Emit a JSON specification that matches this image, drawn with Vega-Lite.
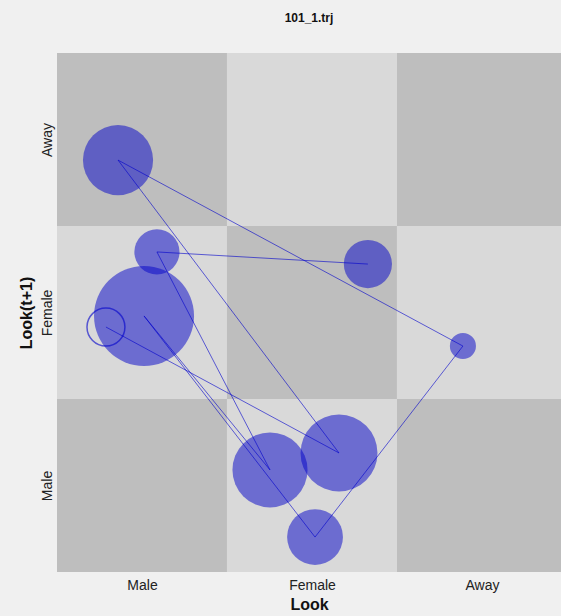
{
  "$schema": "https://vega.github.io/schema/vega-lite/v6.json",
  "width": 504,
  "height": 519,
  "autosize": {"type": "none"},
  "padding": {"left": 57, "top": 53, "right": 0, "bottom": 44},
  "background": "#f0f0f0",
  "title": {"text": "101_1.trj", "fontSize": 12, "font": "Liberation Sans", "fontWeight": "bold", "color": "#111111", "anchor": "middle", "offset": 28, "frame": "group"},
  "config": {"view": {"stroke": null}},
  "datasets": {
    "cells": [
      {"look": 0.5, "look2": 1.5, "next": 2.5, "next2": 3.5, "shade": "dark"},
      {"look": 1.5, "look2": 2.5, "next": 2.5, "next2": 3.5, "shade": "light"},
      {"look": 2.5, "look2": 3.5, "next": 2.5, "next2": 3.5, "shade": "dark"},
      {"look": 0.5, "look2": 1.5, "next": 1.5, "next2": 2.5, "shade": "light"},
      {"look": 1.5, "look2": 2.5, "next": 1.5, "next2": 2.5, "shade": "dark"},
      {"look": 2.5, "look2": 3.5, "next": 1.5, "next2": 2.5, "shade": "light"},
      {"look": 0.5, "look2": 1.5, "next": 0.5, "next2": 1.5, "shade": "dark"},
      {"look": 1.5, "look2": 2.5, "next": 0.5, "next2": 1.5, "shade": "light"},
      {"look": 2.5, "look2": 3.5, "next": 0.5, "next2": 1.5, "shade": "dark"}
    ],
    "steps": [
      {"step": 1, "look": 0.788, "next": 1.916, "dur": 3.6},
      {"step": 2, "look": 2.159, "next": 1.188, "dur": 14.8},
      {"step": 3, "look": 0.859, "next": 2.881, "dur": 12.3},
      {"step": 4, "look": 2.888, "next": 1.806, "dur": 1.7},
      {"step": 5, "look": 2.018, "next": 0.702, "dur": 7.8},
      {"step": 6, "look": 1.012, "next": 1.98, "dur": 25},
      {"step": 7, "look": 1.753, "next": 1.09, "dur": 14.1},
      {"step": 8, "look": 1.088, "next": 2.35, "dur": 5.1},
      {"step": 9, "look": 2.329, "next": 2.28, "dur": 5.8}
    ]
  },
  "layer": [
    {
      "data": {"name": "cells"},
      "mark": {"type": "rect", "clip": true},
      "encoding": {
        "x": {"field": "look", "type": "quantitative",
              "scale": {"domain": [0.5, 3.465], "nice": false, "zero": false},
              "axis": {"values": [1, 2, 3], "labelExpr": "datum.value == 1 ? 'Male' : datum.value == 2 ? 'Female' : 'Away'",
                       "title": "Look", "ticks": false, "domain": false, "grid": false,
                       "labelFontSize": 14, "labelFont": "Liberation Sans", "labelColor": "#222222", "labelPadding": 6,
                       "titleFontSize": 16, "titleFont": "Liberation Sans", "titleFontWeight": "bold", "titleColor": "#111111", "titlePadding": 4}},
        "x2": {"field": "look2"},
        "y": {"field": "next", "type": "quantitative",
              "scale": {"domain": [0.5, 3.5], "nice": false, "zero": false},
              "axis": {"values": [1, 2, 3], "labelExpr": "datum.value == 1 ? 'Male' : datum.value == 2 ? 'Female' : 'Away'",
                       "title": "Look(t+1)", "ticks": false, "domain": false, "grid": false,
                       "labelAngle": -90, "labelAlign": "center", "labelBaseline": "bottom",
                       "labelFontSize": 14, "labelFont": "Liberation Sans", "labelColor": "#222222", "labelPadding": 3,
                       "titleFontSize": 16, "titleFont": "Liberation Sans", "titleFontWeight": "bold", "titleColor": "#111111", "titlePadding": 6}},
        "y2": {"field": "next2"},
        "color": {"field": "shade", "type": "nominal", "scale": {"domain": ["dark", "light"], "range": ["#bebebe", "#d9d9d9"]}, "legend": null}
      }
    },
    {
      "data": {"name": "steps"},
      "transform": [{"filter": "datum.step > 1"}],
      "mark": {"type": "circle", "color": "#0000c8", "opacity": 0.5, "clip": true},
      "encoding": {
        "x": {"field": "look", "type": "quantitative"},
        "y": {"field": "next", "type": "quantitative"},
        "size": {"field": "dur", "type": "quantitative", "scale": {"type": "linear", "domain": [0, 25], "range": [0, 10000]}, "legend": null}
      }
    },
    {
      "data": {"name": "steps"},
      "transform": [{"filter": "datum.step == 1"}],
      "mark": {"type": "point", "shape": "circle", "filled": false, "stroke": "#0000cc", "strokeWidth": 1.5, "opacity": 0.6, "clip": true},
      "encoding": {
        "x": {"field": "look", "type": "quantitative"},
        "y": {"field": "next", "type": "quantitative"},
        "size": {"field": "dur", "type": "quantitative", "legend": null}
      }
    },
    {
      "data": {"name": "steps"},
      "mark": {"type": "line", "color": "#0000cc", "strokeWidth": 1, "opacity": 0.6, "clip": true},
      "encoding": {
        "x": {"field": "look", "type": "quantitative"},
        "y": {"field": "next", "type": "quantitative"},
        "order": {"field": "step", "type": "quantitative"}
      }
    }
  ]
}
